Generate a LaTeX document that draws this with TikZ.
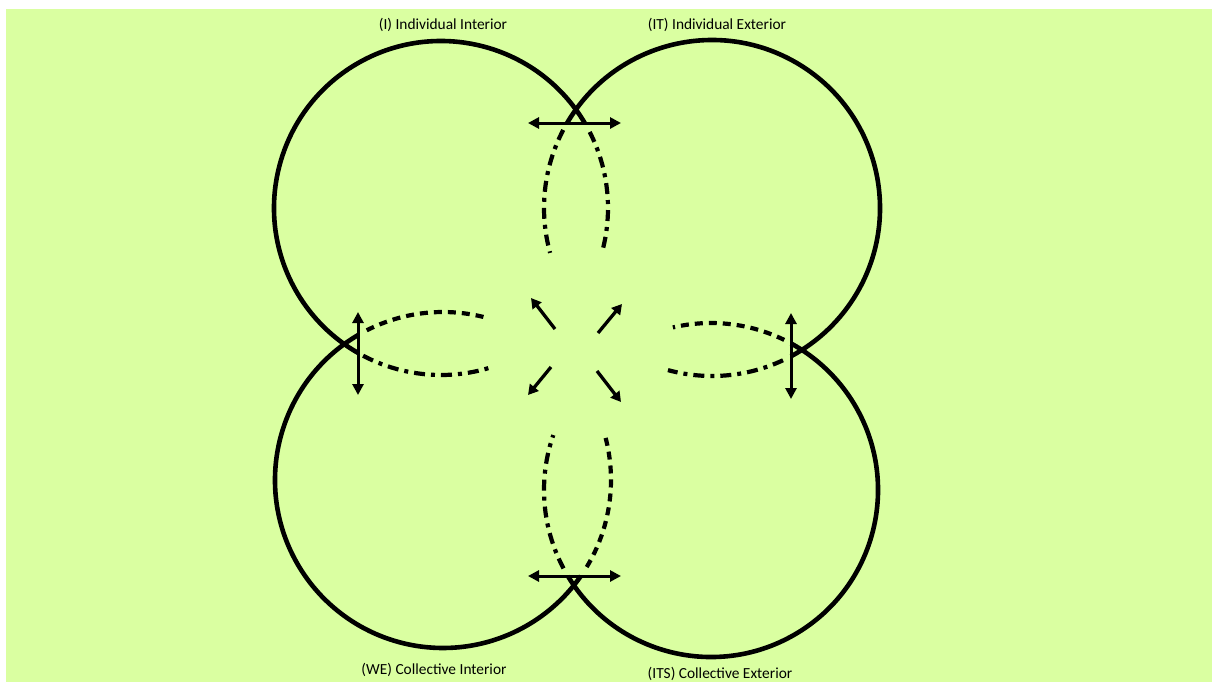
\documentclass[tikz,border=0pt]{standalone}
\usepackage{fontspec}
\setmainfont{Carlito}
\usetikzlibrary{arrows.meta}
\definecolor{quadbg}{RGB}{218,255,161}

\begin{document}
\begin{tikzpicture}[x=1pt,y=-1pt,
circ/.style={line width=4.6pt},
hidA/.style={line width=4.2pt,dash pattern=on 11pt off 6pt on 4pt off 6pt},
hidB/.style={line width=4.2pt,dash pattern=on 8pt off 6pt},
dbl/.style={{Triangle[length=11pt,width=11pt]}-{Triangle[length=11pt,width=11pt]},line width=3pt},
ray/.style={-{Triangle[length=10pt,width=11pt]},line width=3.3pt},
lbl/.style={font=\fontsize{15.4}{17}\selectfont,inner sep=0pt}]
\useasboundingbox (0,0) rectangle (1213,683);
\fill[quadbg] (6,9) rectangle (1212,682);
% quadrant circles, outer parts
\draw[circ] (441,208) ++(-30.6:167) arc[start angle=-30.6,end angle=-240.2,radius=167];
\draw[circ] (712,208) ++(-149.6:168) arc[start angle=-149.6,end angle=62,radius=168];
\draw[circ] (443,480) ++(-120.4:168) arc[start angle=-120.4,end angle=-325.2,radius=168];
\draw[circ] (711,490) ++(149:167) arc[start angle=149,end angle=-61.4,radius=167];
% hidden parts
\draw[hidA] (441,208) ++(-27.1:167) arc[start angle=-27.1,end angle=14.6,radius=167];
\draw[hidA] (441,208) ++(117.8:167) arc[start angle=117.8,end angle=73,radius=167];
\draw[hidA] (712,208) ++(207.7:168) arc[start angle=207.7,end angle=164.5,radius=168];
\draw[hidA] (712,208) ++(65:168) arc[start angle=65,end angle=105.2,radius=168];
\draw[hidB] (443,480) ++(-117:168) arc[start angle=-117,end angle=-74.8,radius=168];
\draw[hidB] (443,480) ++(31.2:168) arc[start angle=31.2,end angle=-14.8,radius=168];
\draw[hidB] (711,490) ++(-64:167) arc[start angle=-64,end angle=-103.2,radius=167];
\draw[hidA] (711,490) ++(152:167) arc[start angle=152,end angle=199.2,radius=167];
% crossing arrows
\coordinate (topL) at (528,123); \coordinate (topR) at (621,123);
\coordinate (botL) at (528,576); \coordinate (botR) at (621,576);
\coordinate (lftT) at (358,312); \coordinate (lftB) at (358,395);
\coordinate (rgtT) at (791,313); \coordinate (rgtB) at (791,399);
\draw[dbl] (topL) -- (topR);
\draw[dbl] (botL) -- (botR);
\draw[dbl] (lftT) -- (lftB);
\draw[dbl] (rgtT) -- (rgtB);
% centre rays
\coordinate (nwA) at (555,329); \coordinate (nwB) at (531,298);
\coordinate (neA) at (598,333); \coordinate (neB) at (622,304);
\coordinate (swA) at (551,367); \coordinate (swB) at (528,395);
\coordinate (seA) at (597,371); \coordinate (seB) at (621,402);
\draw[ray] (nwA) -- (nwB);
\draw[ray] (neA) -- (neB);
\draw[ray] (swA) -- (swB);
\draw[ray] (seA) -- (seB);
% labels
\node[lbl] (qI) at (443,25) {(I) Individual Interior};
\node[lbl] (qIT) at (717,25) {(IT) Individual Exterior};
\node[lbl] (qWE) at (434,670) {(WE) Collective Interior};
\node[lbl] (qITS) at (720,674) {(ITS) Collective Exterior};
\end{tikzpicture}
\end{document}
